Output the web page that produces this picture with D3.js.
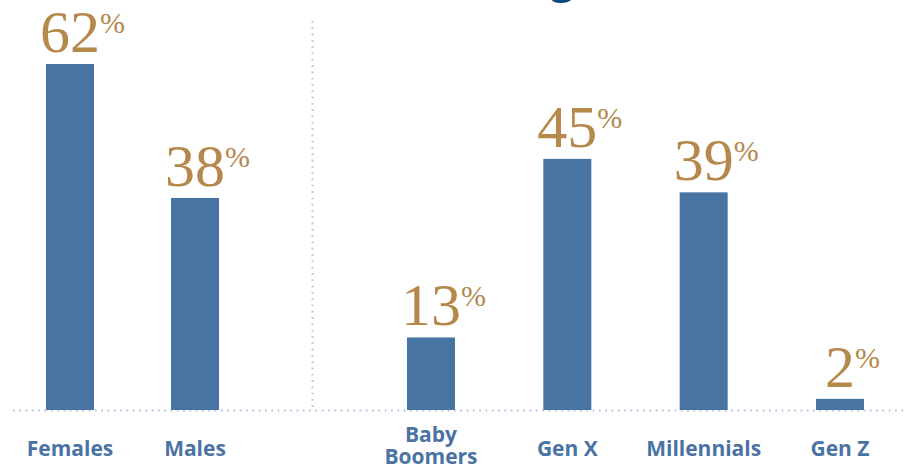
<!DOCTYPE html>
<meta charset="utf-8">
<style>
  body { margin: 0; background: #fff; }
</style>
<script src="https://d3js.org/d3.v7.min.js"></script>
<body>
<script>
// gender split and generation split, in %
var genderCats = ["Females", "Males"];
var genderVals = [62, 38];
var genCats = ["Baby Boomers", "Gen X", "Millennials", "Gen Z"];
var genVals = [13, 45, 39, 2];

var width = 905, height = 466;
var baseY = 410;
var barW = 48;
var barColor = "#4874a4";
var labelColor = "#4a73a4";
var numColor = "#b5884c";
var dotColor = "#bcc1e0";

var svg = d3.select("body").append("svg")
  .attr("width", width)
  .attr("height", height)
  .style("font-family", "'Open Sans', sans-serif");

// title is cut off at the top of the picture, only a descender shows
svg.append("text")
  .attr("x", 560).attr("y", -7)
  .attr("text-anchor", "middle")
  .style("font-size", "42px").style("font-weight", 700)
  .style("fill", "#0d4a7a")
  .text("Age");

var y = d3.scaleLinear().domain([0, 62]).range([baseY, 64]);

var xGender = d3.scalePoint().domain(genderCats).range([70, 195]);
var xGen = d3.scalePoint().domain(genCats).range([431, 840]);

// dotted baseline + divider
svg.append("line")
  .attr("x1", 13).attr("x2", width).attr("y1", baseY + 0.5).attr("y2", baseY + 0.5)
  .style("stroke", dotColor).style("stroke-width", 2)
  .style("stroke-dasharray", "1.8,4.5");

svg.append("line")
  .attr("x1", 312.5).attr("x2", 312.5).attr("y1", 21).attr("y2", baseY)
  .style("stroke", dotColor).style("stroke-width", 2)
  .style("stroke-dasharray", "1.8,4.5");

function drawGroup(cats, vals, x) {
  var data = cats.map(function(c, i) { return { cat: c, val: vals[i] }; });
  var g = svg.append("g");

  g.selectAll("rect").data(data).enter().append("rect")
    .attr("x", function(d) { return x(d.cat) - barW / 2; })
    .attr("y", function(d) { return y(d.val); })
    .attr("width", barW)
    .attr("height", function(d) { return baseY - y(d.val); })
    .style("fill", barColor);

  // value label: number centred on bar, small % to its right
  data.forEach(function(d) {
    var by = y(d.val) - 12;
    var num = g.append("text")
      .attr("x", x(d.cat)).attr("y", by)
      .attr("text-anchor", "middle")
      .style("font-family", "'Liberation Serif', serif")
      .style("font-size", "60px")
      .style("fill", numColor)
      .text(d.val);
    var w = num.node().getComputedTextLength();
    g.append("text")
      .attr("x", x(d.cat) + w / 2).attr("y", by - 19)
      .style("font-family", "'Liberation Serif', serif")
      .style("font-size", "30px")
      .style("fill", numColor)
      .text("%");
  });

  // category labels, the boomers label goes on two lines
  data.forEach(function(d) {
    var lines = d.cat === "Baby Boomers" ? ["Baby", "Boomers"] : [d.cat];
    var y0 = lines.length > 1 ? 442 : 456;
    lines.forEach(function(l, i) {
      g.append("text")
        .attr("x", x(d.cat)).attr("y", y0 + i * 22)
        .attr("text-anchor", "middle")
        .style("font-size", "21px").style("font-weight", 700)
        .style("fill", labelColor)
        .text(l);
    });
  });
}

drawGroup(genderCats, genderVals, xGender);
drawGroup(genCats, genVals, xGen);
</script>
</body>
